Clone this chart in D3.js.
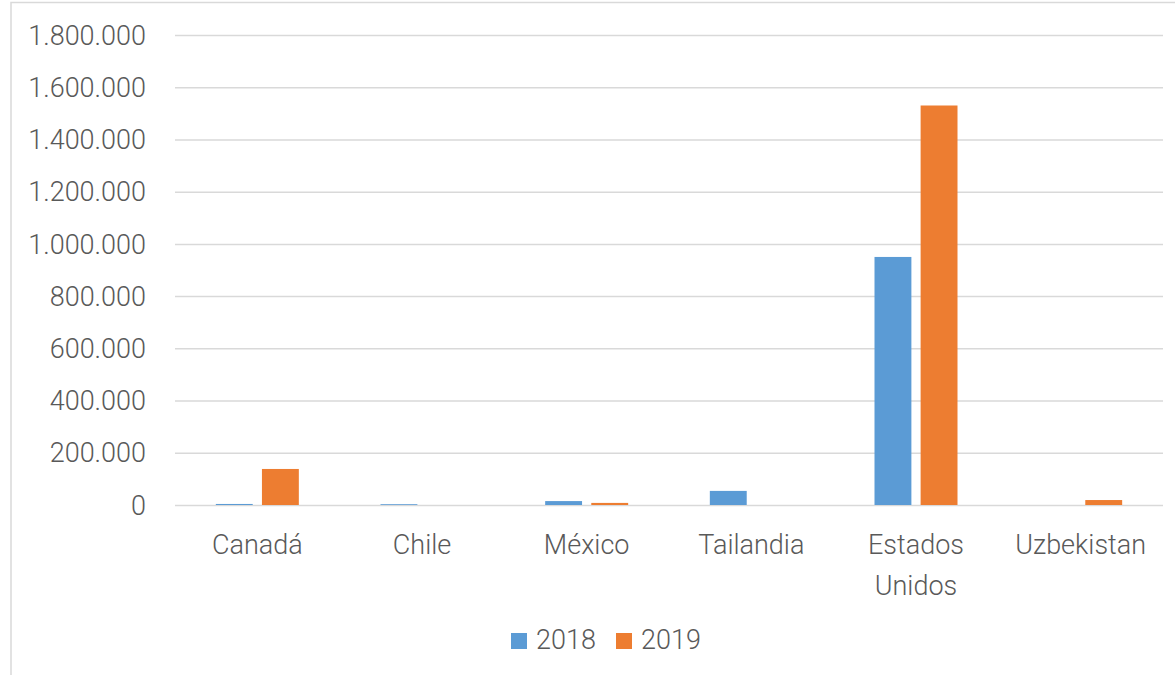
<!DOCTYPE html>
<html>
<head>
<meta charset="utf-8">
<script src="https://cdn.jsdelivr.net/npm/d3@7"></script>
<style>
  body { margin: 0; background: #fff; }
  text { font-family: Roboto, "Open Sans", sans-serif; font-weight: 300; fill: #595959; }
</style>
</head>
<body>
<script>
var categories = ["Canadá", "Chile", "México", "Tailandia", "Estados Unidos", "Uzbekistan"];
var series = ["2018", "2019"];
var values2018 = [4000, 3000, 15000, 54000, 950000, 0];
var values2019 = [138000, 0, 8000, 0, 1530000, 19000];
var yTicks = [0, 200000, 400000, 600000, 800000, 1000000, 1200000, 1400000, 1600000, 1800000];
var colors = ["#5b9bd5", "#ed7d31"];

var svgWidth = 1175;
var svgHeight = 675;

var margin = { top: 35, right: 12, bottom: 170, left: 175 };
var width = svgWidth - margin.left - margin.right;
var height = svgHeight - margin.top - margin.bottom;

var svg = d3.select("body")
    .append("svg")
    .attr("width", svgWidth)
    .attr("height", svgHeight);

// chart frame
svg.append("rect")
    .attr("x", 11)
    .attr("y", 2.5)
    .attr("width", svgWidth + 20)
    .attr("height", svgHeight + 20)
    .attr("fill", "none")
    .attr("stroke", "#d9d9d9")
    .attr("stroke-width", 1.5);

var chartGroup = svg.append("g")
    .attr("transform", `translate(${margin.left}, ${margin.top})`);

var xScale = d3.scaleBand()
    .domain(categories)
    .range([0, width]);

var xInner = d3.scaleBand()
    .domain(series)
    .range([0, 83])
    .paddingInner(0.2);

var yScale = d3.scaleLinear()
    .domain([0, 1800000])
    .range([height, 0]);

var fmt = function(d) {
    return d3.format(",")(d).replace(/,/g, ".");
};

// grid lines and y labels
var leftAxis = d3.axisLeft(yScale)
    .tickValues(yTicks)
    .tickSize(-width)
    .tickPadding(29)
    .tickFormat(fmt);

var yAxis = chartGroup.append("g").call(leftAxis);
yAxis.select(".domain").remove();
yAxis.selectAll("line")
    .attr("stroke", "#d9d9d9")
    .attr("stroke-width", 1.5);
yAxis.selectAll("text")
    .attr("font-size", 27)
    .attr("dy", "0.34em")
    .style("font-family", "Roboto, sans-serif")
    .style("font-weight", 300)
    .attr("fill", "#595959");

var rows = categories.map(function(c, i) {
    return { cat: c, vals: [values2018[i], values2019[i]] };
});

var groups = chartGroup.selectAll(".grp")
    .data(rows)
    .enter()
    .append("g")
    .attr("transform", d => `translate(${xScale(d.cat) + xScale.bandwidth() / 2 - 41.5}, 0)`);

groups.selectAll("rect")
    .data(d => d.vals.map((v, j) => ({ key: series[j], value: v, j: j })))
    .enter()
    .append("rect")
    .attr("x", d => xInner(d.key))
    .attr("width", xInner.bandwidth())
    .attr("y", d => yScale(d.value))
    .attr("height", d => height - yScale(d.value))
    .attr("fill", d => colors[d.j]);

// category labels
var catLabels = chartGroup.selectAll(".cat")
    .data(categories)
    .enter()
    .append("text")
    .attr("text-anchor", "middle")
    .attr("font-size", 27)
    .attr("x", d => xScale(d) + xScale.bandwidth() / 2)
    .attr("y", height + 49);

catLabels.each(function(d) {
    var words = d === "Estados Unidos" ? ["Estados", "Unidos"] : [d];
    var t = d3.select(this);
    words.forEach(function(w, k) {
        t.append("tspan")
            .attr("x", t.attr("x"))
            .attr("dy", k === 0 ? 0 : 41)
            .text(w);
    });
});

// legend
var legend = svg.append("g")
    .attr("transform", "translate(511, 633)");

var legendItems = legend.selectAll("g")
    .data(series)
    .enter()
    .append("g")
    .attr("transform", (d, i) => `translate(${i * 105}, 0)`);

legendItems.append("rect")
    .attr("width", 16)
    .attr("height", 16)
    .attr("fill", (d, i) => colors[i]);

legendItems.append("text")
    .attr("x", 25)
    .attr("y", 16)
    .attr("font-size", 27)
    .text(d => d);
</script>
</body>
</html>
